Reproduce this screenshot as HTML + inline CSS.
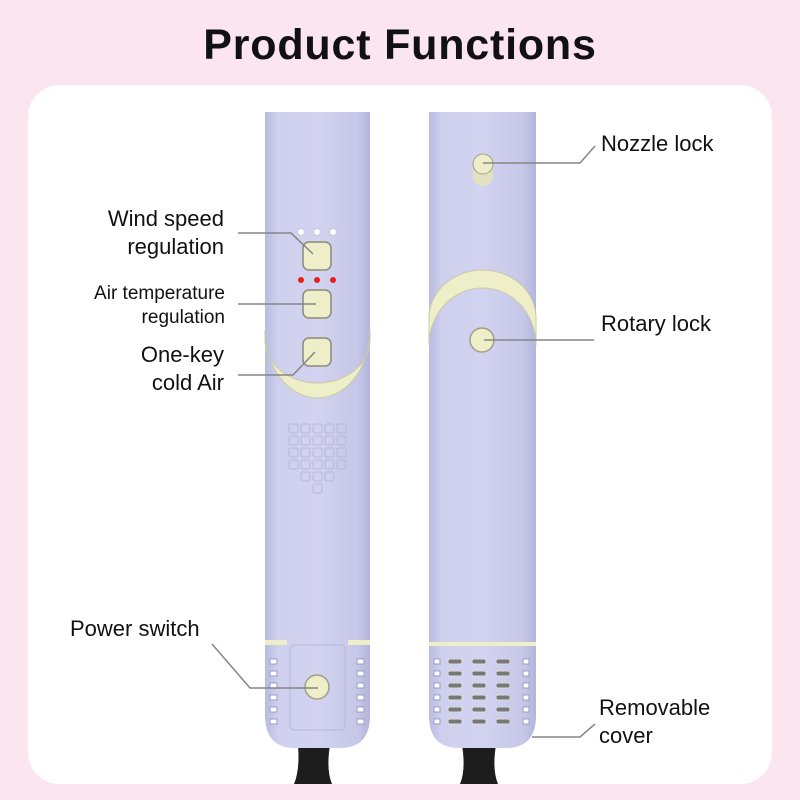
<!DOCTYPE html>
<html><head><meta charset="utf-8"><style>
html,body{margin:0;padding:0;background:#fbe6f0;}
svg{display:block}
text{font-family:"Liberation Sans",sans-serif;fill:#111;}
</style></head><body>
<svg width="800" height="800" viewBox="0 0 800 800" xmlns="http://www.w3.org/2000/svg">
<defs>
<linearGradient id="body" x1="0" x2="1" y1="0" y2="0">
<stop offset="0" stop-color="#b9bbe0"/><stop offset="0.12" stop-color="#cfd0ee"/><stop offset="0.5" stop-color="#d2d3f0"/><stop offset="0.88" stop-color="#c6c7e8"/><stop offset="1" stop-color="#b2b4da"/>
</linearGradient>
</defs>
<rect width="800" height="800" fill="#fbe6f0"/>
<text x="400" y="59" text-anchor="middle" font-size="43" font-weight="bold" letter-spacing="0.8">Product Functions</text>
<rect x="28" y="85" width="744" height="699" rx="32" fill="#fff"/>

<!-- cords -->
<path d="M298 745 Q300 770 294 784 L332 784 Q326 770 330 745Z" fill="#1d1d1d"/>
<path d="M462 745 Q466 770 460 784 L498 784 Q492 770 496 745Z" fill="#1d1d1d"/>

<!-- left device -->
<path d="M265 112 H370 V715 Q370 748 340 748 H295 Q265 748 265 715Z" fill="url(#body)"/>
<path d="M265 330 A52.5 68 0 0 0 370 330 L370 340 A52.5 43 0 0 1 265 340Z" fill="#eeeec8" stroke="#c9c9a8" stroke-width="1"/>
<g fill="#fff" stroke="#c8c8e0"><circle cx="301" cy="232" r="3.5"/><circle cx="317" cy="232" r="3.5"/><circle cx="333" cy="232" r="3.5"/></g>
<g fill="#e82020"><circle cx="301" cy="280" r="3"/><circle cx="317" cy="280" r="3"/><circle cx="333" cy="280" r="3"/></g>
<g fill="#eeeec8" stroke="#8a8a78" stroke-width="1.5">
<rect x="303" y="242" width="28" height="28" rx="6"/>
<rect x="303" y="290" width="28" height="28" rx="6"/>
<rect x="303" y="338" width="28" height="28" rx="6"/>
</g>
<g fill="none" stroke="#b8b8d4" stroke-width="1">
<rect x="289" y="424" width="9" height="9" rx="2"/><rect x="301" y="424" width="9" height="9" rx="2"/><rect x="313" y="424" width="9" height="9" rx="2"/><rect x="325" y="424" width="9" height="9" rx="2"/><rect x="337" y="424" width="9" height="9" rx="2"/>
<rect x="289" y="436" width="9" height="9" rx="2"/><rect x="301" y="436" width="9" height="9" rx="2"/><rect x="313" y="436" width="9" height="9" rx="2"/><rect x="325" y="436" width="9" height="9" rx="2"/><rect x="337" y="436" width="9" height="9" rx="2"/>
<rect x="289" y="448" width="9" height="9" rx="2"/><rect x="301" y="448" width="9" height="9" rx="2"/><rect x="313" y="448" width="9" height="9" rx="2"/><rect x="325" y="448" width="9" height="9" rx="2"/><rect x="337" y="448" width="9" height="9" rx="2"/>
<rect x="289" y="460" width="9" height="9" rx="2"/><rect x="301" y="460" width="9" height="9" rx="2"/><rect x="313" y="460" width="9" height="9" rx="2"/><rect x="325" y="460" width="9" height="9" rx="2"/><rect x="337" y="460" width="9" height="9" rx="2"/>
<rect x="301" y="472" width="9" height="9" rx="2"/><rect x="313" y="472" width="9" height="9" rx="2"/><rect x="325" y="472" width="9" height="9" rx="2"/>
<rect x="313" y="484" width="9" height="9" rx="2"/>
</g>
<rect x="265" y="640" width="22" height="5" fill="#eeeec8"/><rect x="348" y="640" width="22" height="5" fill="#eeeec8"/>
<rect x="290" y="645" width="55" height="85" rx="4" fill="none" stroke="#b6b8d8"/>
<g fill="#fff" stroke="#9a9cc0" stroke-width="1">
<rect x="270" y="659" width="7" height="5"/><rect x="270" y="671" width="7" height="5"/><rect x="270" y="683" width="7" height="5"/><rect x="270" y="695" width="7" height="5"/><rect x="270" y="707" width="7" height="5"/><rect x="270" y="719" width="7" height="5"/>
<rect x="357" y="659" width="7" height="5"/><rect x="357" y="671" width="7" height="5"/><rect x="357" y="683" width="7" height="5"/><rect x="357" y="695" width="7" height="5"/><rect x="357" y="707" width="7" height="5"/><rect x="357" y="719" width="7" height="5"/>
</g>
<circle cx="317" cy="687" r="12" fill="#eeeec8" stroke="#a0a088" stroke-width="1.5"/>

<!-- right device -->
<path d="M429 112 H536 V715 Q536 748 506 748 H459 Q429 748 429 715Z" fill="url(#body)"/>
<path d="M429 318 A53.5 48 0 0 1 536 318 L536 345 A53.5 57 0 0 0 429 345Z" fill="#eeeec8" stroke="#c9c9a8"/>
<rect x="429" y="642" width="107" height="4" fill="#eeeec8"/>
<g fill="#777" stroke="#ddd" stroke-width="1">
<rect x="448" y="659" width="14" height="5" rx="2"/><rect x="472" y="659" width="14" height="5" rx="2"/><rect x="496" y="659" width="14" height="5" rx="2"/>
<rect x="448" y="671" width="14" height="5" rx="2"/><rect x="472" y="671" width="14" height="5" rx="2"/><rect x="496" y="671" width="14" height="5" rx="2"/>
<rect x="448" y="683" width="14" height="5" rx="2"/><rect x="472" y="683" width="14" height="5" rx="2"/><rect x="496" y="683" width="14" height="5" rx="2"/>
<rect x="448" y="695" width="14" height="5" rx="2"/><rect x="472" y="695" width="14" height="5" rx="2"/><rect x="496" y="695" width="14" height="5" rx="2"/>
<rect x="448" y="707" width="14" height="5" rx="2"/><rect x="472" y="707" width="14" height="5" rx="2"/><rect x="496" y="707" width="14" height="5" rx="2"/>
<rect x="448" y="719" width="14" height="5" rx="2"/><rect x="472" y="719" width="14" height="5" rx="2"/><rect x="496" y="719" width="14" height="5" rx="2"/>
</g>
<g fill="#fff" stroke="#9a9cc0"><rect x="434" y="659" width="6" height="5"/><rect x="434" y="671" width="6" height="5"/><rect x="434" y="683" width="6" height="5"/><rect x="434" y="695" width="6" height="5"/><rect x="434" y="707" width="6" height="5"/><rect x="434" y="719" width="6" height="5"/>
<rect x="523" y="659" width="6" height="5"/><rect x="523" y="671" width="6" height="5"/><rect x="523" y="683" width="6" height="5"/><rect x="523" y="695" width="6" height="5"/><rect x="523" y="707" width="6" height="5"/><rect x="523" y="719" width="6" height="5"/></g>
<rect x="473" y="158" width="20" height="28" rx="10" fill="#e2e2c0"/>
<circle cx="483" cy="164" r="10" fill="#eeeec8" stroke="#a0a088"/>
<circle cx="482" cy="340" r="12" fill="#eeeec8" stroke="#a0a088" stroke-width="1.5"/>

<!-- connectors -->
<g fill="none" stroke="#858585" stroke-width="1.5">
<polyline points="238,233 291,233 313,254"/>
<polyline points="238,304 316,304"/>
<polyline points="238,375 293,375 315,352"/>
<polyline points="212,644 250,688 318,688"/>
<polyline points="483,163 580,163 595,146"/>
<polyline points="484,340 594,340"/>
<polyline points="532,737 580,737 595,724"/>
</g>

<!-- labels -->
<g font-size="22" text-anchor="end">
<text x="224" y="226">Wind speed</text>
<text x="224" y="254">regulation</text>
<text x="224" y="362">One-key</text>
<text x="224" y="390">cold Air</text>
</g>
<g font-size="19" text-anchor="end">
<text x="225" y="299">Air temperature</text>
<text x="225" y="323">regulation</text>
</g>
<g font-size="22">
<text x="70" y="636">Power switch</text>
<text x="601" y="151">Nozzle lock</text>
<text x="601" y="331">Rotary lock</text>
<text x="599" y="715">Removable</text>
<text x="599" y="743">cover</text>
</g>
</svg>
</body></html>
